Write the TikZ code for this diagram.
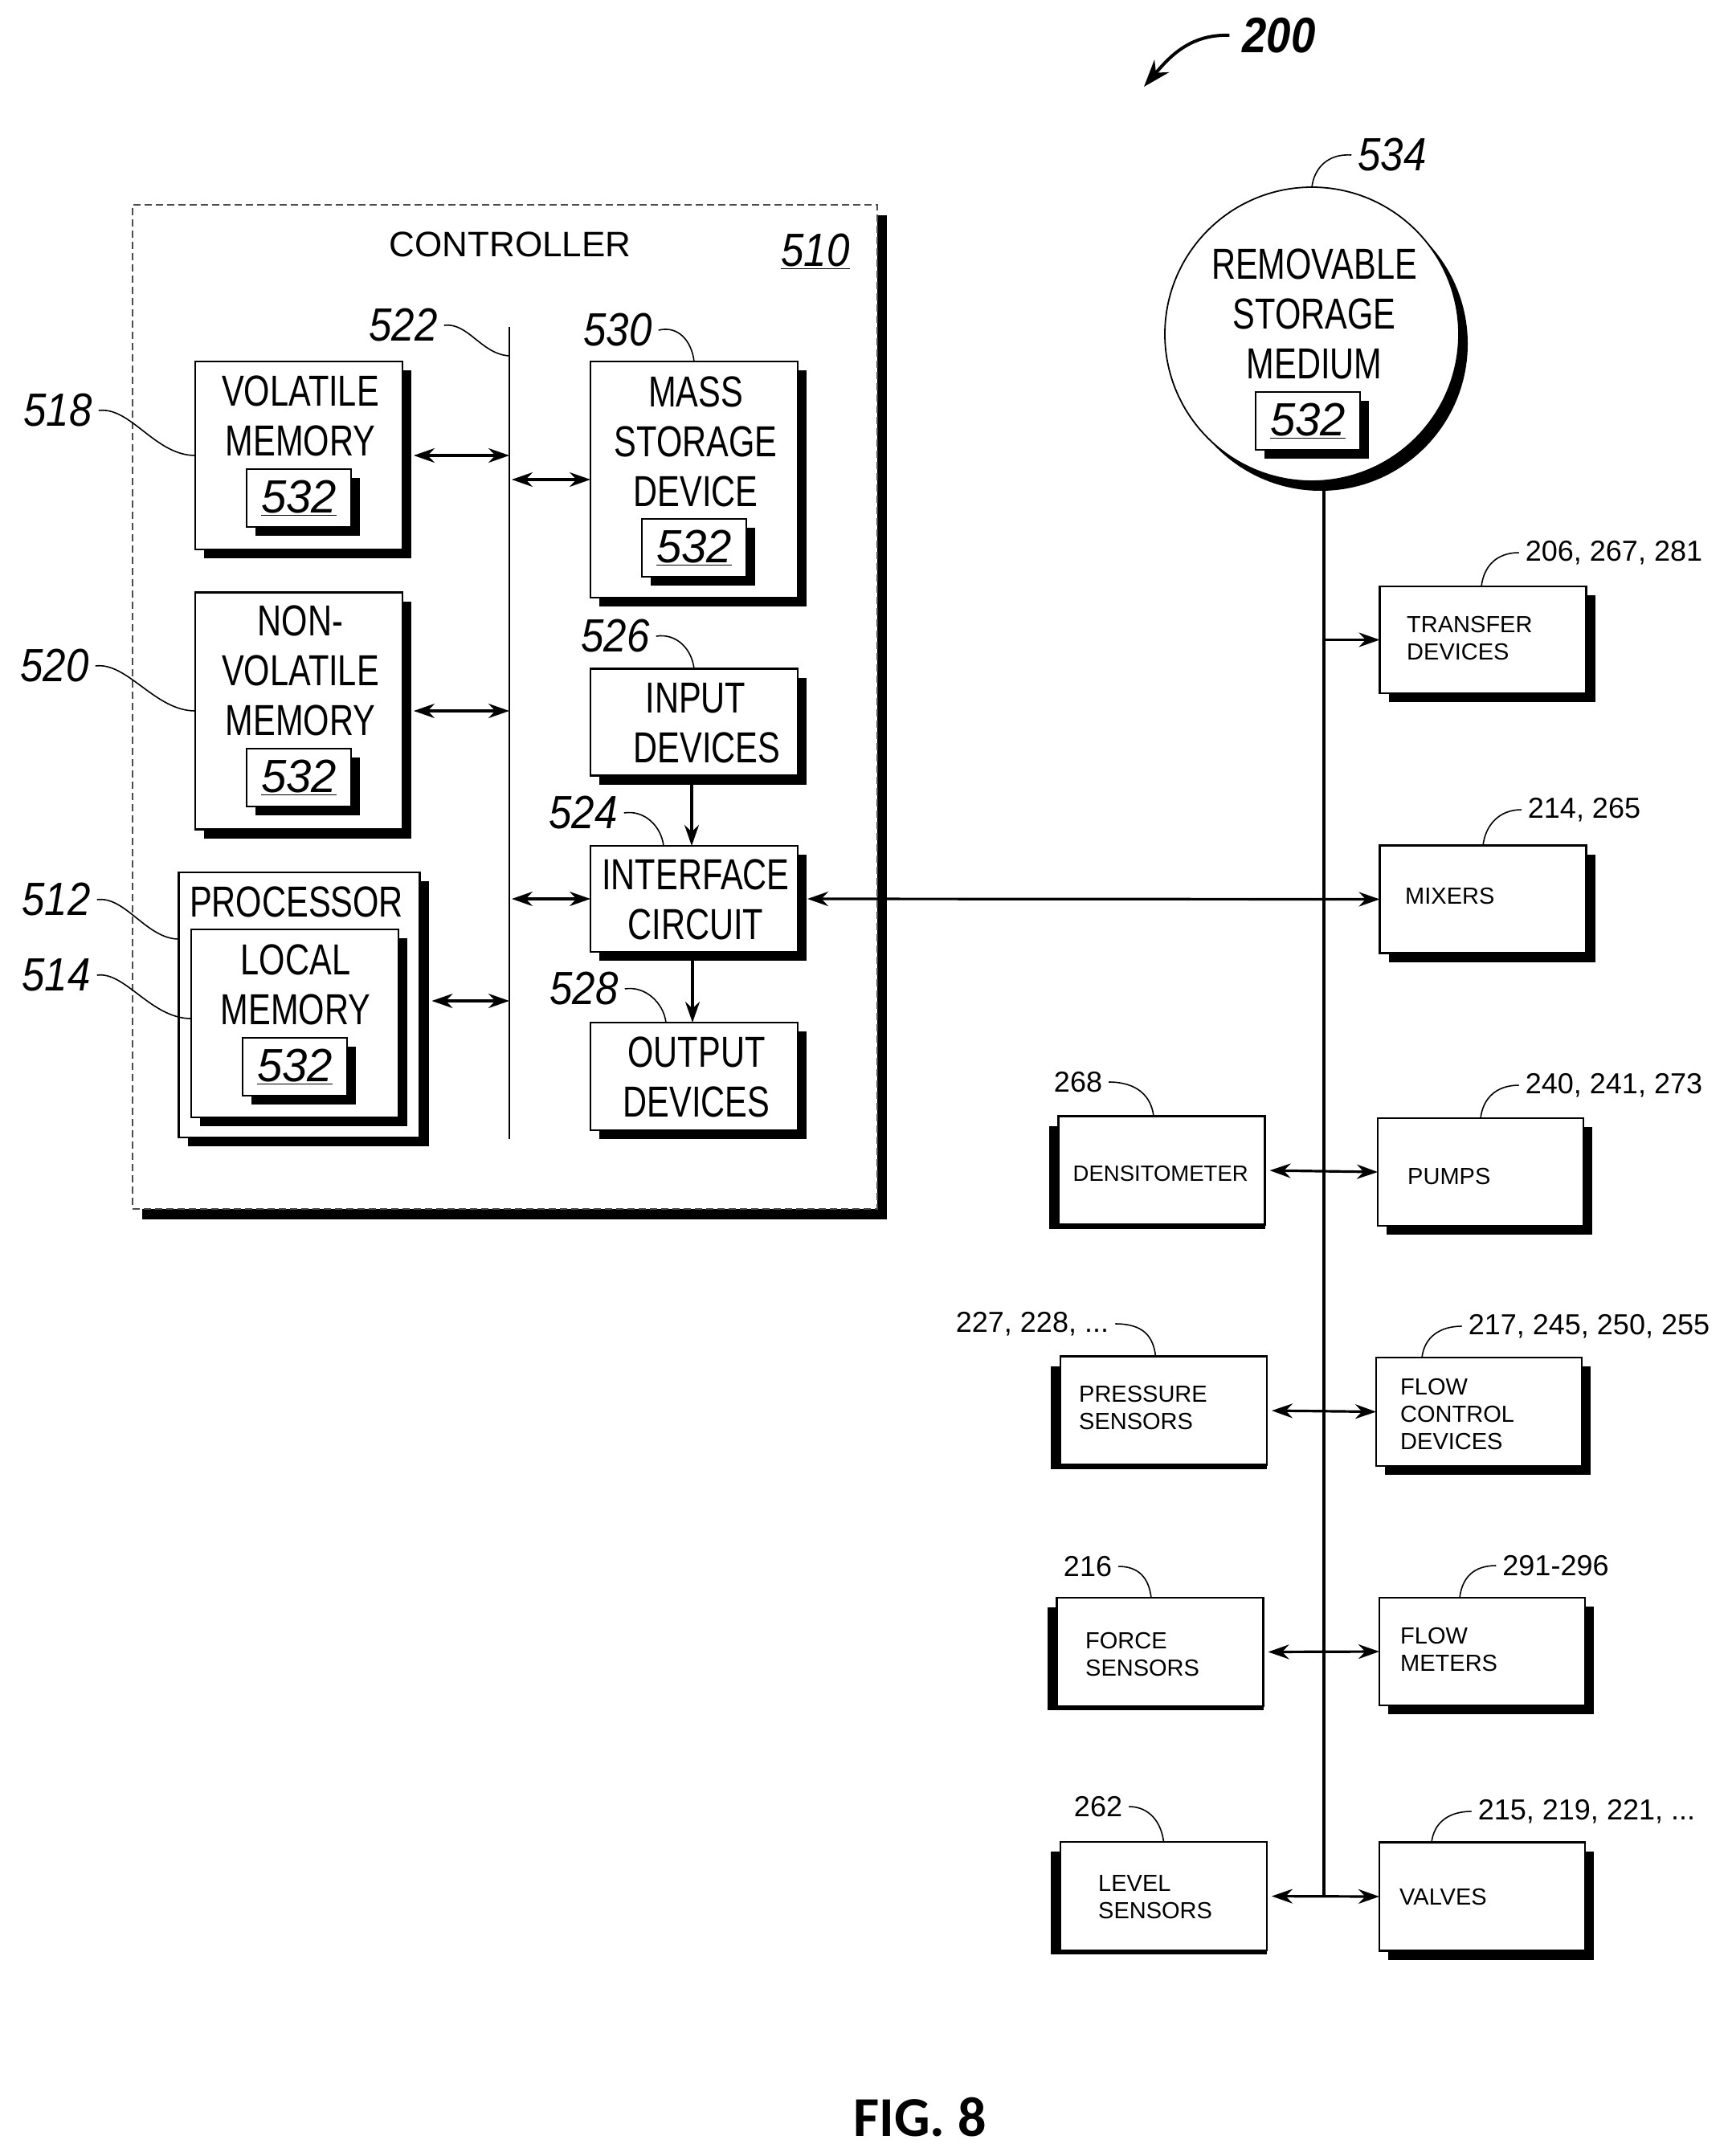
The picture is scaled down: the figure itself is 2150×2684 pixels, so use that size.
\documentclass[tikz,border=0pt]{standalone}
\usepackage{fontspec}
\setmainfont{Liberation Sans}
\newfontfamily\narrowfont[FakeStretch=0.77]{Liberation Sans}
\newfontfamily\numfont[FakeStretch=0.88]{Liberation Sans}
\newfontfamily\boxnumfont[FakeStretch=0.97]{Liberation Sans}
\newfontfamily\figfont{Carlito}
\usetikzlibrary{arrows.meta,shadows,backgrounds}
\tikzset{
  blockbox/.style={draw,fill=white,line width=2.6pt,inner sep=0pt,outer sep=0pt,
    general shadow={fill=black,shadow xshift=11pt,shadow yshift=-11pt}},
  plainbox/.style={draw,fill=white,line width=2.4pt,inner sep=0pt,outer sep=0pt,
    minimum width=257pt,minimum height=135pt},
  numbox/.style={blockbox,minimum width=130pt,minimum height=72pt,
    font=\boxnumfont\itshape\fontsize{58}{62}\selectfont},
  bigtxt/.style={inner sep=0pt,align=center,font=\narrowfont\fontsize{54}{62}\selectfont},
  smalltxt/.style={inner sep=0pt,anchor=west,align=left,font=\fontsize{29}{34}\selectfont},
  reflabel/.style={inner sep=8pt,font=\numfont\itshape\fontsize{58}{62}\selectfont},
  smalllabel/.style={inner sep=8pt,font=\fontsize{36}{40}\selectfont},
  lead/.style={line width=1.6pt},
  link/.style={line width=3.2pt,>={Stealth[length=26pt,width=18pt]}},
}
\begin{document}
\begin{tikzpicture}[x=1pt,y=-1pt]
  \useasboundingbox (0,0) rectangle (2150,2684);
  % controller
  \node[draw=black!70,dash pattern=on 9pt off 5pt,fill=white,line width=1.6pt,inner sep=0pt,minimum width=927pt,minimum height=1250pt,
    general shadow={fill=black,shadow xshift=12pt,shadow yshift=-13pt}] (ctrl) at (628.5,880) {};
  \node[inner sep=0pt,font=\fontsize{44}{50}\selectfont] (ctrltxt) at (635,304) {CONTROLLER};
  \node[inner sep=3pt,font=\numfont\itshape\fontsize{58}{62}\selectfont] (n510) at (1015,313) {\underline{510}};
  % left column
  \node[blockbox,minimum width=258pt,minimum height=234pt] (vol) at (372,567) {};
  \node[bigtxt] (voltxt) at (374,518) {VOLATILE\\MEMORY};
  \node[numbox] (volnum) at (372,620) {\underline{532}};
  \node[blockbox,minimum width=258pt,minimum height=295pt] (nonvol) at (372,885) {};
  \node[bigtxt] (nonvoltxt) at (374,835) {NON-\\VOLATILE\\MEMORY};
  \node[numbox] (nonvolnum) at (372,968) {\underline{532}};
  \node[blockbox,minimum width=300pt,minimum height=330pt] (proc) at (372.5,1251) {};
  \node[bigtxt] (proctxt) at (369,1123) {PROCESSOR};
  \node[blockbox,minimum width=258pt,minimum height=234pt] (local) at (367,1274) {};
  \node[bigtxt] (localtxt) at (368,1226) {LOCAL\\MEMORY};
  \node[numbox] (localnum) at (367,1328) {\underline{532}};
  % right column
  \node[blockbox,minimum width=258pt,minimum height=294pt] (mass) at (864,597) {};
  \node[bigtxt] (masstxt) at (866,550) {MASS\\STORAGE\\DEVICE};
  \node[numbox] (massnum) at (864,682) {\underline{532}};
  \node[blockbox,minimum width=258pt,minimum height=133pt] (input) at (864,899) {};
  \node[bigtxt] (inputtxt) at (866,869) {INPUT};
  \node[bigtxt] (inputtxtb) at (880,931) {DEVICES};
  \node[blockbox,minimum width=258pt,minimum height=132pt] (iface) at (864,1119) {};
  \node[bigtxt] (ifacetxt) at (866,1120) {INTERFACE\\CIRCUIT};
  \node[blockbox,minimum width=258pt,minimum height=134pt] (output) at (864,1340) {};
  \node[bigtxt] (outputtxt) at (867,1341) {OUTPUT\\DEVICES};
  % controller bus
  \coordinate (bustop) at (634,407);
  \coordinate (busbot) at (634,1418);
  \coordinate (bustap) at (634,443);
  \draw[line width=2.8pt] (bustop)--(busbot);
  \draw[link,<->,shorten <=14pt] (vol.east)--(vol.east-|bustop);
  \draw[link,<->,shorten <=14pt] (nonvol.east)--(nonvol.east-|bustop);
  \draw[link,<->,shorten <=15pt] ([yshift=5pt]proc.east)--([yshift=5pt]proc.east-|bustop);
  \draw[link,<->,shorten <=3pt] (mass.west-|bustop)--(mass.west);
  \draw[link,<->,shorten <=3pt] (iface.west-|bustop)--(iface.west);
  \draw[link,->] ([xshift=-3pt,yshift=-11pt]input.south)--([xshift=-3pt]iface.north);
  \draw[link,->] ([xshift=-2pt,yshift=-11pt]iface.south)--([xshift=-2pt]output.north);
  % disk
  \node[circle,draw,fill=white,line width=1.8pt,inner sep=0pt,outer sep=0pt,minimum size=366pt,
    general shadow={fill=black,shadow xshift=11pt,shadow yshift=-12pt}] (disk) at (1633,416) {};
  \node[bigtxt] (disktxt) at (1636,391) {REMOVABLE\\STORAGE\\MEDIUM};
  \node[numbox] (disknum) at (1628,524) {\underline{532}};
  \coordinate (rbustop) at (1648,606);
  \coordinate (rbusbot) at (1648,2361);
  % output boxes
  \node[blockbox,minimum width=257pt,minimum height=133pt] (transfer) at (1846,796.5) {};
  \node[smalltxt] (transfertxt) at (1751,795) {TRANSFER\\DEVICES};
  \node[blockbox,minimum width=257pt,minimum height=134pt] (mixers) at (1846,1119.5) {};
  \node[smalltxt] (mixerstxt) at (1749,1116) {MIXERS};
  \node[blockbox,minimum width=256pt,minimum height=134pt] (pumps) at (1843,1459) {};
  \node[smalltxt] (pumpstxt) at (1752,1464) {PUMPS};
  \node[blockbox,minimum width=256pt,minimum height=135pt] (flowc) at (1841,1757.5) {};
  \node[smalltxt] (flowctxt) at (1743,1760) {FLOW\\CONTROL\\DEVICES};
  \node[blockbox,minimum width=256pt,minimum height=134pt] (flowm) at (1845,2056) {};
  \node[smalltxt] (flowmtxt) at (1743,2053) {FLOW\\METERS};
  \node[blockbox,minimum width=256pt,minimum height=135pt] (valves) at (1845,2361) {};
  \node[smalltxt] (valvestxt) at (1742,2361) {VALVES};
  % sensors, shadow on the left
  \node[plainbox] (dens) at (1446,1457) {};
  \node[smalltxt,font=\fontsize{27.5}{34}\selectfont] (denstxt) at (1335.5,1461) {DENSITOMETER};
  \node[plainbox] (press) at (1448.5,1756) {};
  \node[smalltxt] (presstxt) at (1343,1752.5) {PRESSURE\\SENSORS};
  \node[plainbox] (force) at (1444,2056.5) {};
  \node[smalltxt] (forcetxt) at (1351,2059) {FORCE\\SENSORS};
  \node[plainbox] (level) at (1448.5,2360.5) {};
  \node[smalltxt] (leveltxt) at (1367,2362) {LEVEL\\SENSORS};
  \begin{pgfonlayer}{background}
    \foreach \n in {dens,press,force,level}
      \fill ([xshift=-12pt,yshift=-12pt]\n.north west) rectangle ([yshift=-5pt]\n.south east);
  \end{pgfonlayer}
  % field bus and links
  \draw[line width=4pt] (rbustop)--(rbusbot);
  \draw[link,->] (rbustop|-transfer.west)--(transfer.west);
  \draw[link,<->,shorten <=12pt] (iface.east)--(mixers.west);
  \draw[link,<->,shorten <=6pt] (dens.east)--(pumps.west);
  \draw[link,<->,shorten <=6pt] (press.east)--(flowc.west);
  \draw[link,<->,shorten <=6pt] (force.east)--(flowm.west);
  \draw[link,<->,shorten <=6pt] (level.east)--(valves.west);
  % reference numbers
  \node[inner sep=16pt,font=\numfont\bfseries\itshape\fontsize{62}{66}\selectfont] (n200) at (1592,44) {200};
  \coordinate (a200) at (1424,108);
  \draw[line width=4pt,-{Stealth[length=34pt,width=24pt]}] (n200.west) .. controls +(-50,-2) and +(30,-35) .. (a200);
  \node[reflabel] (n534) at (1733,193) {534};
  \draw[lead] (n534.west) .. controls +(-28,-2) and +(3,-25) .. (disk.north);
  \node[reflabel] (n522) at (502,405) {522};
  \draw[lead] (n522.east) .. controls +(30,-4) and +(-35,-2) .. (bustap);
  \node[reflabel] (n530) at (769,411) {530};
  \draw[lead] (n530.east) .. controls +(25,-6) and +(-3,-25) .. (mass.north);
  \node[reflabel] (n526) at (766,792) {526};
  \draw[lead] (n526.east) .. controls +(25,-4) and +(-3,-25) .. (input.north);
  \node[reflabel] (n524) at (726,1012) {524};
  \draw[lead] (n524.east) .. controls +(25,-4) and +(-3,-25) .. ([xshift=-38pt]iface.north);
  \node[reflabel] (n528) at (727,1231) {528};
  \draw[lead] (n528.east) .. controls +(25,-4) and +(-3,-25) .. ([xshift=-35pt]output.north);
  \node[reflabel] (n518) at (72,511) {518};
  \draw[lead] (n518.east) .. controls +(40,-5) and +(-50,0) .. (vol.west);
  \node[reflabel] (n520) at (68,829) {520};
  \draw[lead] (n520.east) .. controls +(40,-5) and +(-50,0) .. (nonvol.west);
  \node[reflabel] (n512) at (70,1120) {512};
  \draw[lead] (n512.east) .. controls +(35,-5) and +(-40,0) .. ([yshift=82pt]proc.west);
  \node[reflabel] (n514) at (70,1214) {514};
  \draw[lead] (n514.east) .. controls +(35,-5) and +(-50,0) .. ([yshift=6pt]local.west);
  % small reference numbers
  \node[smalllabel] (n206) at (2009,688) {206, 267, 281};
  \draw[lead] (n206.west) .. controls +(-28,0) and +(3,-25) .. ([xshift=-2pt]transfer.north);
  \node[smalllabel] (n214) at (1972,1008) {214, 265};
  \draw[lead] (n214.west) .. controls +(-28,0) and +(3,-25) .. (mixers.north);
  \node[smalllabel] (n240) at (2009,1351) {240, 241, 273};
  \draw[lead] (n240.west) .. controls +(-28,0) and +(3,-25) .. (pumps.north);
  \node[smalllabel] (n217) at (1978,1651) {217, 245, 250, 255};
  \draw[lead] (n217.west) .. controls +(-28,0) and +(3,-25) .. ([xshift=-71pt]flowc.north);
  \node[smalllabel] (n291) at (1936.5,1949) {291-296};
  \draw[lead] (n291.west) .. controls +(-28,0) and +(3,-25) .. ([xshift=-28pt]flowm.north);
  \node[smalllabel] (n215) at (1975,2255) {215, 219, 221, ...};
  \draw[lead] (n215.west) .. controls +(-28,0) and +(3,-25) .. ([xshift=-63pt]valves.north);
  \node[smalllabel] (n268) at (1342,1347) {268};
  \draw[lead] (n268.east) .. controls +(35,0) and +(-3,-25) .. ([xshift=-10pt]dens.north);
  \node[smalllabel] (n227) at (1285,1648) {227, 228, ...};
  \draw[lead] (n227.east) .. controls +(35,0) and +(-3,-25) .. ([xshift=-10pt]press.north);
  \node[smalllabel] (n216) at (1354,1950) {216};
  \draw[lead] (n216.east) .. controls +(25,0) and +(-3,-25) .. ([xshift=-11pt]force.north);
  \node[smalllabel] (n262) at (1367,2249) {262};
  \draw[lead] (n262.east) .. controls +(25,0) and +(-3,-25) .. (level.north);
  % caption
  \node[inner sep=0pt,font=\figfont\bfseries\fontsize{70}{74}\selectfont] (fig) at (1145,2636) {FIG. 8};
\end{tikzpicture}
\end{document}
